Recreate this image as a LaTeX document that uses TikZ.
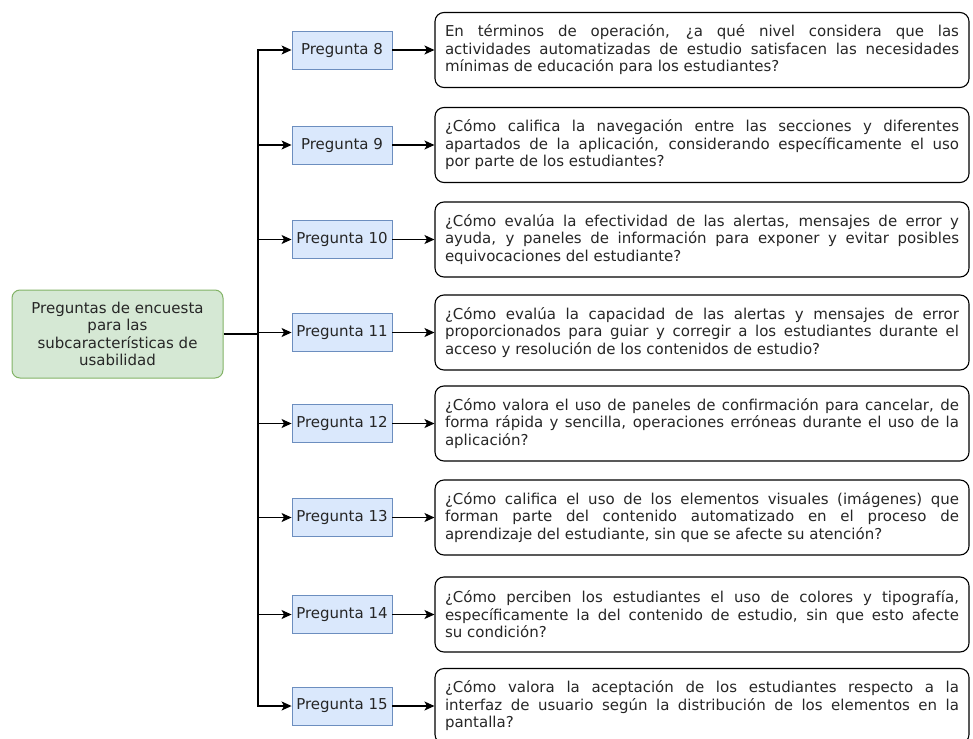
\documentclass[tikz,border=0pt]{standalone}
\usepackage{fontspec}
\setmainfont{DejaVu Sans}
\usepackage{tikz}
\usetikzlibrary{arrows.meta, positioning}

\definecolor{topicfill}{HTML}{D5E8D4}
\definecolor{topicdraw}{HTML}{82B366}
\definecolor{itemfill}{HTML}{DAE8FC}
\definecolor{itemdraw}{HTML}{6C8EBF}

\begin{document}
\begin{tikzpicture}[x = 1pt, y = 1pt,
                every node/.style={font=\fontsize{15}{17.5}\selectfont, text=black!85},
                topic/.style={rectangle, rounded corners=8pt, draw=topicdraw, fill=topicfill, line width=1pt, minimum width=211pt, minimum height=88pt, inner sep=0pt, align=center},
                item/.style={rectangle, draw=itemdraw, fill=itemfill, line width=0.9pt, minimum width=100pt, minimum height=38pt, inner sep=0pt, align=center},
                detail/.style={rectangle, rounded corners=9pt, draw, line width=1.1pt, text width=514pt, inner xsep=10pt, inner ysep=0pt, minimum height=75pt, align=justify},
                paths/.style={line width=1.2pt, -{Stealth[length=10pt, width=9pt, inset=2.5pt]}},
                lines/.style={line width=1.2pt}
            ]
                \useasboundingbox (0,0) rectangle (973,-738);

                % Nodes
                \node[topic] (survey) at (117.5,-334) {Preguntas de encuesta\\ para las\\ subcaracterísticas de\\ usabilidad};
                \coordinate (trunk) at (258,-334);

                \node[detail] (d8) at (702,-50) {En términos de operación, ¿a qué nivel considera que las\linebreak actividades automatizadas de estudio satisfacen las necesidades\linebreak mínimas de educación para los estudiantes?};
                \node[detail] (d9) at (702,-145) {¿Cómo califica la navegación entre las secciones y diferentes\linebreak apartados de la aplicación, considerando específicamente el uso\linebreak por parte de los estudiantes?};
                \node[detail] (d10) at (702,-239.5) {¿Cómo evalúa la efectividad de las alertas, mensajes de error y\linebreak ayuda, y paneles de información para exponer y evitar posibles\linebreak equivocaciones del estudiante?};
                \node[detail] (d11) at (702,-332.5) {¿Cómo evalúa la capacidad de las alertas y mensajes de error\linebreak proporcionados para guiar y corregir a los estudiantes durante el\linebreak acceso y resolución de los contenidos de estudio?};
                \node[detail] (d12) at (702,-423.5) {¿Cómo valora el uso de paneles de confirmación para cancelar, de\linebreak forma rápida y sencilla, operaciones erróneas durante el uso de la\linebreak aplicación?};
                \node[detail] (d13) at (702,-517.5) {¿Cómo califica el uso de los elementos visuales (imágenes) que\linebreak forman parte del contenido automatizado en el proceso de\linebreak aprendizaje del estudiante, sin que se afecte su atención?};
                \node[detail] (d14) at (702,-614.5) {¿Cómo perciben los estudiantes el uso de colores y tipografía,\linebreak específicamente la del contenido de estudio, sin que esto afecte\linebreak su condición?};
                \node[detail] (d15) at (702,-706) {¿Cómo valora la aceptación de los estudiantes respecto a la\linebreak interfaz de usuario según la distribución de los elementos en la\linebreak pantalla?};

                \node[item, left = 42pt of d8] (p8) {Pregunta 8};
                \node[item, left = 42pt of d9] (p9) {Pregunta 9};
                \node[item, left = 42pt of d10] (p10) {Pregunta 10};
                \node[item, left = 42pt of d11] (p11) {Pregunta 11};
                \node[item, left = 42pt of d12] (p12) {Pregunta 12};
                \node[item, left = 42pt of d13] (p13) {Pregunta 13};
                \node[item, left = 42pt of d14] (p14) {Pregunta 14};
                \node[item, left = 42pt of d15] (p15) {Pregunta 15};

                % Paths: survey to questions
                \draw[lines] (survey) -- (trunk);
                \draw[paths] (trunk) |- (p8);
                \draw[paths] (trunk) |- (p15);
                \draw[paths] (p9 -| trunk) -- (p9);
                \draw[paths] (p10 -| trunk) -- (p10);
                \draw[paths] (p11 -| trunk) -- (p11);
                \draw[paths] (p12 -| trunk) -- (p12);
                \draw[paths] (p13 -| trunk) -- (p13);
                \draw[paths] (p14 -| trunk) -- (p14);

                % Paths: questions to texts
                \draw[paths] (p8) -- (d8);
                \draw[paths] (p9) -- (d9);
                \draw[paths] (p10) -- (d10);
                \draw[paths] (p11) -- (d11);
                \draw[paths] (p12) -- (d12);
                \draw[paths] (p13) -- (d13);
                \draw[paths] (p14) -- (d14);
                \draw[paths] (p15) -- (d15);
            \end{tikzpicture}
\end{document}
